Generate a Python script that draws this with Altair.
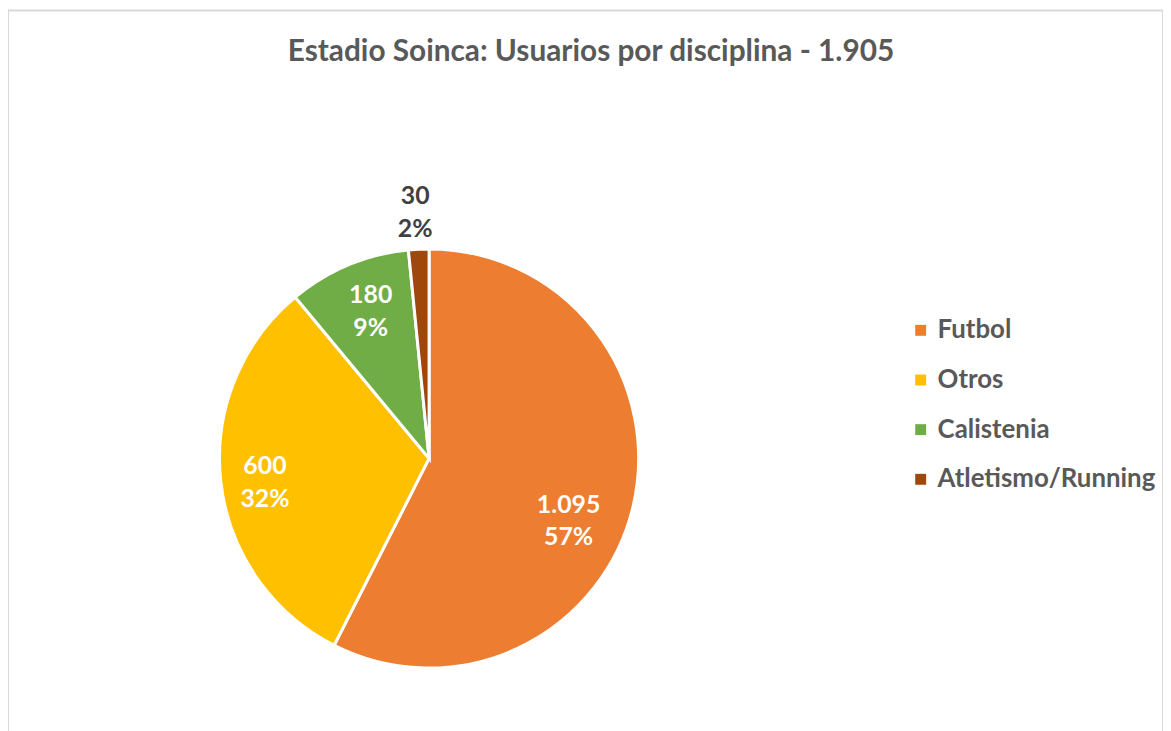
import altair as alt
import pandas as pd

disciplinas = ["Futbol", "Otros", "Calistenia", "Atletismo/Running"]
usuarios = [1095, 600, 180, 30]
valores_txt = ["1.095", "600", "180", "30"]
porcentajes = ["57%", "32%", "9%", "2%"]
colores = ["#ED7D31", "#FFC000", "#70AD47", "#9E480E"]
titulo = "Estadio Soinca: Usuarios por disciplina - 1.905"

df = pd.DataFrame({
    "Disciplina": disciplinas,
    "Usuarios": usuarios,
    "orden": list(range(len(disciplinas))),
    "etiqueta": [f"{v}\n{p}" for v, p in zip(valores_txt, porcentajes)],
})

FONT = "Lato"
CX, CY = 424, 451
LFS = 25
LH = 33

base = alt.Chart(df).encode(
    theta=alt.Theta("Usuarios:Q", stack=True),
    order=alt.Order("orden:Q"),
)

pie = base.mark_arc(outerRadius=211, stroke="white", strokeWidth=3).encode(
    x=alt.value(CX), y=alt.value(CY),
    color=alt.Color(
        "Disciplina:N",
        scale=alt.Scale(domain=disciplinas, range=colores),
        sort=disciplinas,
        legend=alt.Legend(
            title=None, orient="none", legendX=906, legendY=309,
            symbolType="square", symbolSize=121, symbolStrokeWidth=0,
            labelFont=FONT, labelFontSize=26, labelFontWeight="bold",
            labelColor="#595959", labelOffset=4, rowPadding=24, labelLimit=400,
        ),
    ),
)

# (slice, label radius, angular offset, colour)
placements = [
    ("Futbol", 154, 0.187, "white"),
    ("Otros", 167, -0.033, "white"),
    ("Calistenia", 159, 0.017, "white"),
    ("Atletismo/Running", 248, -0.007, "#404040"),
]

labels = []
for name, r, toff, col in placements:
    labels.append(
        base.mark_text(
            radius=r, thetaOffset=toff, font=FONT, fontSize=LFS, fontWeight="bold",
            color=col, lineBreak="\n", lineHeight=LH, baseline="middle",
            align="center", dy=-LH / 2,
        ).encode(
            x=alt.value(CX), y=alt.value(CY), text="etiqueta:N",
            opacity=alt.condition(alt.datum.Disciplina == name, alt.value(1), alt.value(0)),
        )
    )

title = alt.Chart(pd.DataFrame({"t": [titulo]})).mark_text(
    font=FONT, fontSize=30, fontWeight="bold", color="#595959",
    align="center", baseline="middle",
).encode(x=alt.value(587), y=alt.value(42), text="t:N")

chart = alt.layer(pie, *labels, title).properties(
    width=1163, height=740, padding=0,
).configure_view(stroke="#d9d9d9", strokeWidth=2)

chart.save("out.html", embed_options={"renderer": "svg", "actions": False})
